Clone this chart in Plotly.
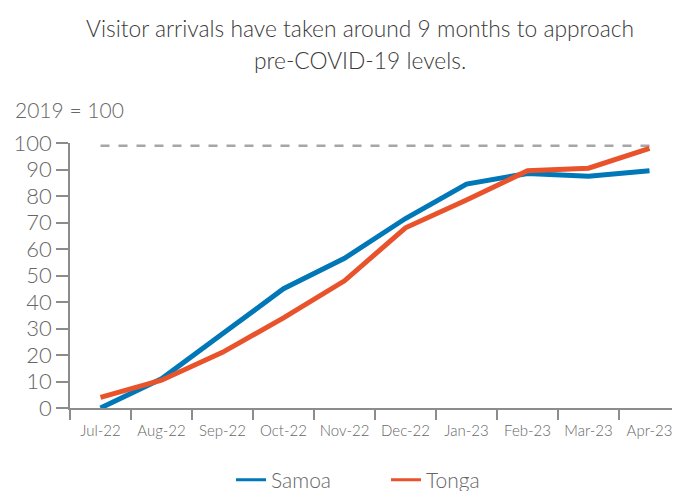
import plotly.graph_objects as go

months = ["Jul-22", "Aug-22", "Sep-22", "Oct-22", "Nov-22", "Dec-22",
          "Jan-23", "Feb-23", "Mar-23", "Apr-23"]
samoa = [0, 11, 28, 45, 56.5, 71.5, 84.5, 88.5, 87.5, 89.5]
tonga = [4, 10.5, 21, 34, 48, 68, 78.5, 89.5, 90.5, 98]
baseline = [99] * len(months)
series_names = ["Samoa", "Tonga"]
series_colors = ["#0077B7", "#E9532B"]

title_lines = ["Visitor arrivals have taken around 9 months to approach",
               "pre-COVID-19 levels."]
font_family = "Lato"
grey = "#666666"
dark = "#3a3a3a"
axis_col = "#8c8c8c"

# the page body adds an 8px offset; work in reference pixels minus 8
OFF = 8
W, H = 680 - OFF, 491 - OFF
PL, PR = 70 - OFF, 680 - OFF
PT, PB = 143 - OFF, 408 - OFF
PW, PH = PR - PL, PB - PT


def px(p):
    return (p - OFF - PL) / PW


def py(p):
    return (PB - (p - OFF)) / PH


fig = go.Figure()
fig.add_trace(go.Scatter(x=months, y=baseline, mode="lines",
                         line=dict(color="#a6a6a6", width=2.5, dash="dash"),
                         showlegend=False, hoverinfo="skip"))
for name, vals, col in zip(series_names, [samoa, tonga], series_colors):
    fig.add_trace(go.Scatter(x=months, y=vals, mode="lines", name=name,
                             line=dict(color=col, width=5), showlegend=False))
# legend keys with the thinner line used in the reference legend
for name, col in zip(series_names, series_colors):
    fig.add_trace(go.Scatter(x=[None], y=[None], mode="lines", name=name,
                             line=dict(color=col, width=3), showlegend=True,
                             hoverinfo="skip"))

light = dict(family=font_family, weight=300)
annotations = [
    dict(text=title_lines[0], xref="paper", yref="paper", x=px(360),
         xanchor="center", y=py(28), yanchor="middle", showarrow=False,
         font=dict(size=22.8, color=dark, **light)),
    dict(text=title_lines[1], xref="paper", yref="paper", x=px(360),
         xanchor="center", y=py(60), yanchor="middle", showarrow=False,
         font=dict(size=22.8, color=dark, **light)),
    dict(text="2019 = 100", xref="paper", yref="paper",
         x=px(13), xanchor="left", y=py(109),
         yanchor="middle", showarrow=False,
         font=dict(size=21, color=grey, **light)),
]

fig.update_layout(
    width=W, height=H,
    margin=dict(l=PL, r=W - PR, t=PT, b=H - PB, autoexpand=False),
    paper_bgcolor="white", plot_bgcolor="white",
    font=dict(family=font_family, color=grey),
    showlegend=True,
    legend=dict(orientation="h", xref="paper", yref="paper",
                x=px(386), xanchor="center", y=py(480), yanchor="middle",
                font=dict(size=21, color=grey, **light), entrywidth=110,
                traceorder="normal"),
    annotations=annotations,
)
fig.update_xaxes(range=[-0.5, 9.5], showline=True, linecolor=axis_col, linewidth=1.5,
                 ticks="outside", tickson="boundaries", ticklen=10,
                 tickcolor=axis_col, tickwidth=1.5, showgrid=False,
                 tickfont=dict(size=15, color=grey, **light), fixedrange=True,
                 tickangle=0, ticklabelstandoff=8, automargin=False)
fig.update_yaxes(range=[0, 100], tickvals=list(range(0, 101, 10)),
                 showline=True, linecolor=axis_col, linewidth=1.5,
                 ticks="outside", ticklen=12, tickcolor=axis_col, tickwidth=1.5,
                 showgrid=False, zeroline=False,
                 tickfont=dict(size=22, color=grey, **light), fixedrange=True,
                 automargin=False)

fig.write_html("out.html")
